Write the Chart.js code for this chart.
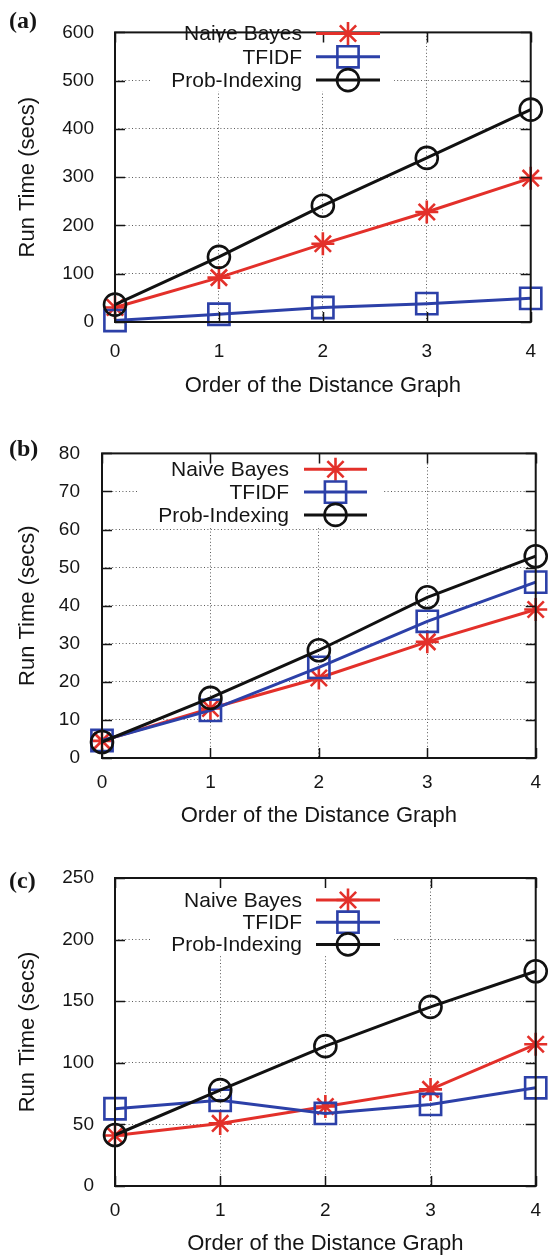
<!DOCTYPE html>
<html>
<head>
<meta charset="utf-8">
<script src="https://cdn.jsdelivr.net/npm/chart.js@4.4.1/dist/chart.umd.min.js"></script>
<style>
    body { margin: 0; background: #fff; width: 554px; overflow: hidden; }
    .panel { position: relative; width: 554px; }
    canvas { display: block; }
</style>
</head>
<body>
<div class="panel"><canvas id="chartA" width="554" height="420"></canvas></div>
<div class="panel"><canvas id="chartB" width="554" height="420"></canvas></div>
<div class="panel"><canvas id="chartC" width="554" height="417"></canvas></div>
<script>
// x categories: order of the distance graph
const orders = ['0', '1', '2', '3', '4'];
const seriesNames = ['Naive Bayes', 'TFIDF', 'Prob-Indexing'];
const seriesColors = ['#e3302a', '#2c40a8', '#111111'];
const seriesMarkers = ['star', 'rect', 'circle'];
const markerRadius = [11.5, 15, 11];

// (a)
const naiveBayesA = [30, 92, 162, 228, 298];
const tfidfA = [3, 16, 30, 38, 49];
const probIndexingA = [36, 135, 241, 340, 440];
const yMaxA = 600, yStepA = 100;

// (b)
const naiveBayesB = [4.5, 13, 21, 30.5, 39];
const tfidfB = [4.6, 12.5, 23.8, 35.9, 46.2];
const probIndexingB = [4.2, 15.8, 28.3, 42.2, 53];
const yMaxB = 80, yStepB = 10;

// (c)
const naiveBayesC = [41, 50.8, 64.5, 78.4, 115];
const tfidfC = [62.7, 69.5, 58.9, 66.2, 79.7];
const probIndexingC = [41.4, 77.8, 113.5, 145.4, 174.3];
const yMaxC = 250, yStepC = 50;

const FONT = '"Liberation Sans", Arial, Helvetica, sans-serif';
const TEXT = '#151515';
Chart.defaults.font.family = FONT;
Chart.defaults.color = TEXT;

function drawMarker(ctx, style, r, x, y) {
    ctx.beginPath();
    if (style === 'circle') {
        ctx.arc(x, y, r, 0, Math.PI * 2);
    } else if (style === 'rect') {
        const h = r * Math.SQRT1_2;
        ctx.rect(x - h, y - h, 2 * h, 2 * h);
    } else {
        for (let k = 0; k < 4; k++) {
            const a = k * Math.PI / 4;
            ctx.moveTo(x - Math.cos(a) * r, y - Math.sin(a) * r);
            ctx.lineTo(x + Math.cos(a) * r, y + Math.sin(a) * r);
        }
    }
    ctx.stroke();
}

// gnuplot look: framed box, inward ticks, opaque key, panel letter
const gnuplotFrame = {
    id: 'gnuplotFrame',
    beforeDatasetsDraw(chart, args, opts) {
        const ctx = chart.ctx;
        const area = chart.chartArea;
        const key = opts.key;
        const n = chart.data.datasets.length;
        ctx.save();
        ctx.fillStyle = '#fff';
        const y0 = area.top + 1;
        const y1 = key.top + key.gap * (n - 1) + 11;
        ctx.fillRect(key.textRight - 150, y0, key.boxRight - key.textRight + 150, y1 - y0);
        ctx.restore();
    },
    afterDraw(chart, args, opts) {
        const ctx = chart.ctx;
        const area = chart.chartArea;
        const xScale = chart.scales.x;
        const yScale = chart.scales.y;
        const tl = 10;
        ctx.save();

        // inward tick marks on all four sides
        ctx.strokeStyle = TEXT;
        ctx.lineWidth = 1.5;
        ctx.beginPath();
        xScale.ticks.forEach((t, i) => {
            const px = Math.round(xScale.getPixelForTick(i)) + 0.5;
            ctx.moveTo(px, area.bottom); ctx.lineTo(px, area.bottom - tl);
            ctx.moveTo(px, area.top); ctx.lineTo(px, area.top + tl);
        });
        yScale.ticks.forEach(t => {
            const py = Math.round(yScale.getPixelForValue(t.value)) + 0.5;
            ctx.moveTo(area.left, py); ctx.lineTo(area.left + tl, py);
            ctx.moveTo(area.right, py); ctx.lineTo(area.right - tl, py);
        });
        ctx.stroke();

        // frame
        ctx.lineWidth = 2;
        ctx.strokeRect(area.left, area.top, area.right - area.left, area.bottom - area.top);

        // key
        const key = opts.key;
        ctx.font = '21px ' + FONT;
        ctx.textAlign = 'right';
        ctx.textBaseline = 'middle';
        chart.data.datasets.forEach((ds, i) => {
            const y = key.top + key.gap * i;
            ctx.fillStyle = TEXT;
            ctx.fillText(ds.label, key.textRight, y + 1);
            ctx.strokeStyle = ds.borderColor;
            ctx.lineWidth = ds.borderWidth;
            ctx.beginPath();
            ctx.moveTo(key.lineX1, y);
            ctx.lineTo(key.lineX2, y);
            ctx.stroke();
            ctx.lineWidth = ds.pointBorderWidth;
            drawMarker(ctx, ds.pointStyle, ds.pointRadius, (key.lineX1 + key.lineX2) / 2, y);
        });

        // panel letter
        ctx.font = 'bold 24px "Liberation Serif", "Times New Roman", serif';
        ctx.textAlign = 'left';
        ctx.fillStyle = TEXT;
        ctx.fillText(opts.letter, 9, opts.letterY);
        ctx.restore();
    }
};

function makeDatasets(values) {
    return values.map((v, i) => ({
        label: seriesNames[i],
        data: v,
        borderColor: seriesColors[i],
        backgroundColor: seriesColors[i],
        borderWidth: 3,
        pointStyle: seriesMarkers[i],
        pointRadius: markerRadius[i],
        pointHoverRadius: markerRadius[i],
        pointBorderWidth: 2.6,
        pointBackgroundColor: 'rgba(0,0,0,0)',
        pointBorderColor: seriesColors[i],
        tension: 0,
        clip: false,
        order: 3 - i
    }));
}

function makePanel(id, values, yMax, yStep, lay) {
    const ctx = document.getElementById(id).getContext('2d');
    return new Chart(ctx, {
        type: 'line',
        data: { labels: orders, datasets: makeDatasets(values) },
        plugins: [gnuplotFrame],
        options: {
            responsive: false,
            animation: false,
            devicePixelRatio: 1,
            layout: { padding: { top: lay.top, right: lay.right, left: 0, bottom: 0 } },
            plugins: {
                legend: { display: false },
                tooltip: { enabled: false },
                gnuplotFrame: { key: lay.key, letter: lay.letter, letterY: lay.letterY }
            },
            scales: {
                x: {
                    offset: false,
                    afterFit: scale => { scale.height = lay.xHeight; },
                    grid: { color: '#5a5a5a', lineWidth: 1, drawTicks: false, offset: false },
                    border: { display: false, dash: [1, 2.4] },
                    ticks: { padding: lay.xTickPad, font: { size: 19 }, color: TEXT, maxRotation: 0 },
                    title: {
                        display: true,
                        text: 'Order of the Distance Graph',
                        font: { size: 22 },
                        color: TEXT,
                        padding: { top: 0, bottom: lay.xTitlePad }
                    }
                },
                y: {
                    min: 0,
                    max: yMax,
                    afterFit: scale => { scale.width = lay.yWidth; },
                    grid: { color: '#5a5a5a', lineWidth: 1, drawTicks: false },
                    border: { display: false, dash: [1, 2.4] },
                    ticks: { stepSize: yStep, padding: lay.yTickPad, font: { size: 19 }, color: TEXT },
                    title: {
                        display: true,
                        text: 'Run Time (secs)',
                        font: { size: 22 },
                        color: TEXT,
                        padding: { top: 15, bottom: 0 }
                    }
                }
            }
        }
    });
}

makePanel('chartA', [naiveBayesA, tfidfA, probIndexingA], yMaxA, yStepA, {
    top: 13, right: 15, xHeight: 98, yWidth: 115,
    xTickPad: 18, xTitlePad: 21, yTickPad: 21,
    letter: '(a)', letterY: 21.5,
    key: { top: 33.5, gap: 23.3, textRight: 302, lineX1: 316, lineX2: 380, boxRight: 394 }
});

makePanel('chartB', [naiveBayesB, tfidfB, probIndexingB], yMaxB, yStepB, {
    top: 29, right: 15, xHeight: 82, yWidth: 102,
    xTickPad: 13, xTitlePad: 11, yTickPad: 22,
    letter: '(b)', letterY: 30,
    key: { top: 49.3, gap: 22.8, textRight: 289, lineX1: 304, lineX2: 367, boxRight: 382 }
});

makePanel('chartC', [naiveBayesC, tfidfC, probIndexingC], yMaxC, yStepC, {
    top: 38, right: 15, xHeight: 71, yWidth: 115,
    xTickPad: 13, xTitlePad: 0, yTickPad: 21,
    letter: '(c)', letterY: 41.7,
    key: { top: 60, gap: 22.2, textRight: 302, lineX1: 316, lineX2: 380, boxRight: 394 }
});
</script>
</body>
</html>
